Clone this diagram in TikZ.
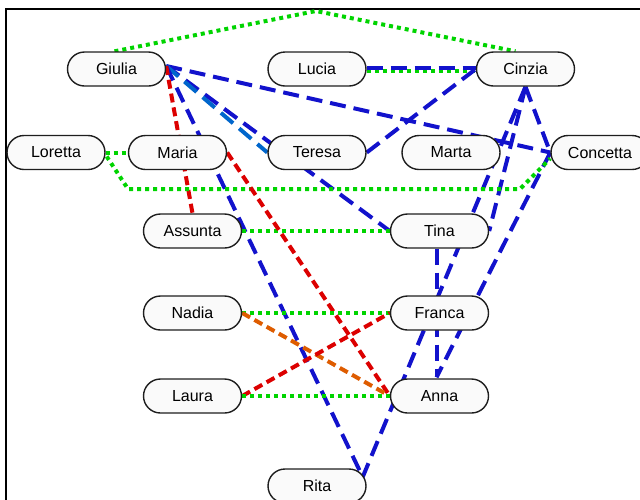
\documentclass[tikz,border=0pt]{standalone}
\usepackage{fontspec}
\setmainfont{Liberation Sans}
\usetikzlibrary{calc,backgrounds}
\definecolor{eblue}{RGB}{18,18,204}
\definecolor{esteel}{RGB}{0,102,204}
\definecolor{ered}{RGB}{220,0,0}
\definecolor{eorange}{RGB}{222,92,0}
\definecolor{egreen}{RGB}{0,212,0}
\definecolor{nodefill}{RGB}{250,250,250}
\definecolor{nodeline}{RGB}{30,30,30}
\begin{document}
\begin{tikzpicture}[x=1pt,y=-1pt,
  person/.style={draw=nodeline, line width=1.4pt, fill=nodefill, rounded corners=17pt,
    minimum width=98pt, minimum height=34pt, inner sep=0pt, font=\fontsize{16}{19}\selectfont},
  bl/.style={draw=eblue, line width=4pt, dash pattern=on 16pt off 8pt},
  st/.style={draw=esteel, line width=4pt, dash pattern=on 16pt off 8pt},
  rd/.style={draw=ered, line width=4pt, dash pattern=on 9pt off 5pt},
  orl/.style={draw=eorange, line width=4pt, dash pattern=on 9pt off 5pt},
  gr/.style={draw=egreen, line width=4pt, dash pattern=on 4pt off 4pt},
  frame/.style={draw=black, line width=2pt}]
\useasboundingbox (0,0) rectangle (640,499);
\node[person] (Giulia) at (116.5,69) {Giulia};
\node[person] (Lucia) at (317,69) {Lucia};
\node[person] (Cinzia) at (525.5,69) {Cinzia};
\node[person] (Loretta) at (56,152.5) {Loretta};
\node[person] (Maria) at (177.5,152.5) {Maria};
\node[person] (Teresa) at (317,152.5) {Teresa};
\node[person] (Marta) at (451,152.5) {Marta};
\node[person] (Concetta) at (600,152.5) {Concetta};
\node[person] (Assunta) at (192.5,231) {Assunta};
\node[person] (Tina) at (439.5,231) {Tina};
\node[person] (Nadia) at (192.5,313) {Nadia};
\node[person] (Franca) at (439.5,313) {Franca};
\node[person] (Laura) at (192.5,396) {Laura};
\node[person] (Anna) at (439.5,396) {Anna};
\node[person] (Rita) at (317,486) {Rita};
\coordinate (peak) at (316,11);
\coordinate (gA) at (128,189);
\coordinate (gB) at (520,189);
\coordinate (gE) at ($(Giulia.east)+(0,-3)$);
\coordinate (ritaTop) at ($(Rita.east)+(-4,-9)$);
\coordinate (annaTop) at ($(Anna.north)+(-3,-1)$);
\coordinate (tinaBot) at ($(Tina.south)+(-3,0)$);
\begin{scope}[on background layer]
\draw[frame] (6,520) -- (6,9) -- (660,9);
\draw[gr] ($(Giulia.north)+(-2,0)$) -- (peak) -- ($(Cinzia.north)+(-10,0)$);
\draw[gr] ($(Lucia.east)+(0,2)$) -- ($(Cinzia.west)+(0,2)$);
\draw[bl] ($(Lucia.east)+(0,-1)$) -- ($(Cinzia.west)+(0,-1)$);
\draw[bl] (gE) -- (Concetta.west);
\draw[bl] (gE) -- (Tina.west);
\draw[st] (gE) -- (Teresa.west);
\draw[bl] (gE) -- (ritaTop);
\draw[rd] (gE) -- (Assunta.north);
\draw[bl] (Teresa.east) -- (Cinzia.west);
\draw[bl] (Cinzia.south) -- (Concetta.west);
\draw[bl] (Cinzia.south) -- (Tina.east);
\draw[bl] (Cinzia.south) -- (ritaTop);
\draw[bl] (Concetta.west) -- (annaTop);
\draw[bl] (tinaBot) -- (annaTop);
\draw[gr] (Loretta.east) -- (Maria.west);
\draw[gr] ($(Loretta.east)+(1,4)$) -- (gA) -- (gB) -- ($(Concetta.west)+(0,6)$);
\draw[gr] (Assunta.east) -- (Tina.west);
\draw[rd] (Maria.east) -- (Anna.west);
\draw[gr] (Nadia.east) -- (Franca.west);
\draw[orl] (Nadia.east) -- (Anna.west);
\draw[rd] (Laura.east) -- (Franca.west);
\draw[gr] (Laura.east) -- (Anna.west);
\end{scope}
\end{tikzpicture}
\end{document}
